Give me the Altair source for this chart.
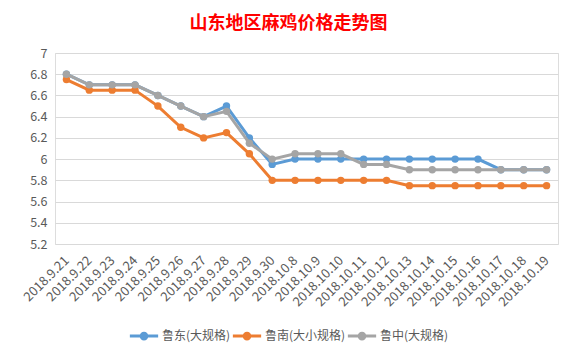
import altair as alt
import pandas as pd

dates = ["2018.9.21", "2018.9.22", "2018.9.23", "2018.9.24", "2018.9.25", "2018.9.26",
         "2018.9.27", "2018.9.28", "2018.9.29", "2018.9.30", "2018.10.8", "2018.10.9",
         "2018.10.10", "2018.10.11", "2018.10.12", "2018.10.13", "2018.10.14", "2018.10.15",
         "2018.10.16", "2018.10.17", "2018.10.18", "2018.10.19"]
ludong = [6.8, 6.7, 6.7, 6.7, 6.6, 6.5, 6.4, 6.5, 6.2, 5.95, 6.0, 6.0, 6.0, 6.0, 6.0,
          6.0, 6.0, 6.0, 6.0, 5.9, 5.9, 5.9]
lunan = [6.75, 6.65, 6.65, 6.65, 6.5, 6.3, 6.2, 6.25, 6.05, 5.8, 5.8, 5.8, 5.8, 5.8, 5.8,
         5.75, 5.75, 5.75, 5.75, 5.75, 5.75, 5.75]
luzhong = [6.8, 6.7, 6.7, 6.7, 6.6, 6.5, 6.4, 6.45, 6.15, 6.0, 6.05, 6.05, 6.05, 5.95, 5.95,
           5.9, 5.9, 5.9, 5.9, 5.9, 5.9, 5.9]
series_names = ["鲁东(大规格)", "鲁南(大小规格)", "鲁中(大规格)"]
colors = ["#5B9BD5", "#ED7D31", "#A5A5A5"]
y_ticks = [5.2, 5.4, 5.6, 5.8, 6.0, 6.2, 6.4, 6.6, 6.8, 7.0]

rows = []
for name, vals in zip(series_names, [ludong, lunan, luzhong]):
    for d, v in zip(dates, vals):
        rows.append({"date": d, "series": name, "price": v})
df = pd.DataFrame(rows)

FONT = "Noto Sans CJK SC"

x_enc = alt.X("date:O", sort=dates, title=None,
              axis=alt.Axis(labelAngle=-45, labelAlign="right", labelBaseline="middle",
                            labelFontSize=13, labelColor="#595959", labelPadding=14,
                            domain=False, ticks=False, grid=False,
                            labelFont=FONT))
y_enc = alt.Y("price:Q", title=None,
              scale=alt.Scale(domain=[5.2, 7.0], nice=False, zero=False),
              axis=alt.Axis(values=y_ticks, format="~g", labelFontSize=12.5,
                            labelColor="#595959", labelPadding=8, domain=False,
                            ticks=False, gridColor="#D9D9D9", gridWidth=1, labelFont=FONT))

legend_path = ("M-1,0L1,0M0.2,0A0.2,0.2,0,1,1,-0.2,0A0.2,0.2,0,1,1,0.2,0Z")
color_enc = alt.Color(
    "series:N",
    scale=alt.Scale(domain=series_names, range=colors),
    legend=alt.Legend(
        title=None, orient="none", direction="horizontal", legendX=73, legendY=267,
        symbolType=legend_path, symbolSize=800, symbolStrokeWidth=3,
        labelFontSize=12, labelColor="#595959", labelFont=FONT, columnPadding=-15,
        labelOffset=2),
)

base = alt.Chart(df)
layers = []
for name in series_names:
    sub = base.transform_filter(alt.datum.series == name)
    layers.append(sub.mark_line(strokeWidth=3).encode(x=x_enc, y=y_enc, color=color_enc))
    layers.append(sub.mark_point(filled=True, size=55, opacity=1).encode(
        x=x_enc, y=y_enc, color=color_enc))

chart = alt.layer(*layers).properties(
    width=503, height=191,
    title=alt.TitleParams("山东地区麻鸡价格走势图", fontSize=18, fontWeight="bold",
                          color="#FF0000", font=FONT, anchor="middle", dx=-18, offset=14),
    autosize=alt.AutoSizeParams(type="none"),
    padding={"left": 47, "top": 45, "right": 10, "bottom": 105},
).configure_view(stroke=None).configure(background="white")

chart.save("out.html", embed_options={"renderer": "svg", "actions": False})
